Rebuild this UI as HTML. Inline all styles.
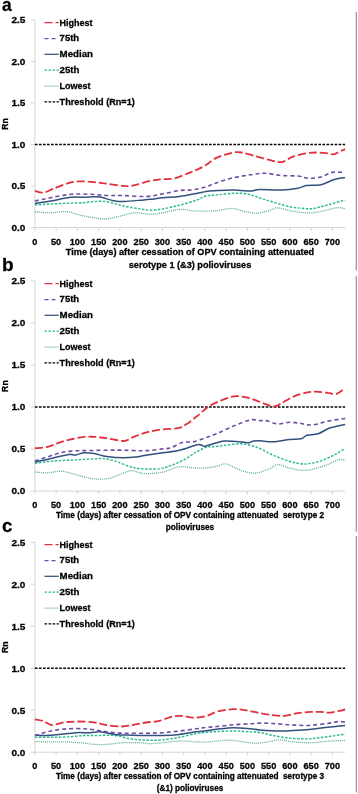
<!DOCTYPE html>
<html><head><meta charset="utf-8"><style>
html,body{margin:0;padding:0;background:#fff;}
body{width:358px;height:794px;overflow:hidden;}
svg{display:block;filter:blur(0.35px);}
</style></head><body>
<svg width="358" height="794" viewBox="0 0 358 794">
<rect width="358" height="794" fill="#fff"/>
<text x="2.0" y="10.7" font-family="Liberation Sans, sans-serif" font-weight="bold" stroke="#000" stroke-width="0.28" font-size="19.00" textLength="9.7" lengthAdjust="spacingAndGlyphs" xml:space="preserve">a</text>
<path d="M34.9 19.8V227.6H345.1" stroke="#d4d4d4" stroke-width="1" fill="none"/>
<text x="25.3" y="230.8" font-family="Liberation Sans, sans-serif" font-weight="bold" stroke="#000" stroke-width="0.28" font-size="9.80" text-anchor="end" textLength="13.9" lengthAdjust="spacingAndGlyphs" xml:space="preserve">0.0</text>
<text x="25.3" y="189.3" font-family="Liberation Sans, sans-serif" font-weight="bold" stroke="#000" stroke-width="0.28" font-size="9.80" text-anchor="end" textLength="13.9" lengthAdjust="spacingAndGlyphs" xml:space="preserve">0.5</text>
<text x="25.3" y="147.7" font-family="Liberation Sans, sans-serif" font-weight="bold" stroke="#000" stroke-width="0.28" font-size="9.80" text-anchor="end" textLength="13.9" lengthAdjust="spacingAndGlyphs" xml:space="preserve">1.0</text>
<text x="25.3" y="106.2" font-family="Liberation Sans, sans-serif" font-weight="bold" stroke="#000" stroke-width="0.28" font-size="9.80" text-anchor="end" textLength="13.9" lengthAdjust="spacingAndGlyphs" xml:space="preserve">1.5</text>
<text x="25.3" y="64.6" font-family="Liberation Sans, sans-serif" font-weight="bold" stroke="#000" stroke-width="0.28" font-size="9.80" text-anchor="end" textLength="13.9" lengthAdjust="spacingAndGlyphs" xml:space="preserve">2.0</text>
<text x="25.3" y="23.1" font-family="Liberation Sans, sans-serif" font-weight="bold" stroke="#000" stroke-width="0.28" font-size="9.80" text-anchor="end" textLength="13.9" lengthAdjust="spacingAndGlyphs" xml:space="preserve">2.5</text>
<text x="34.9" y="244.5" font-family="Liberation Sans, sans-serif" font-weight="bold" stroke="#000" stroke-width="0.28" font-size="9.94" text-anchor="middle" textLength="5.1" lengthAdjust="spacingAndGlyphs" xml:space="preserve">0</text>
<text x="56.1" y="244.5" font-family="Liberation Sans, sans-serif" font-weight="bold" stroke="#000" stroke-width="0.28" font-size="9.94" text-anchor="middle" textLength="10.2" lengthAdjust="spacingAndGlyphs" xml:space="preserve">50</text>
<text x="77.4" y="244.5" font-family="Liberation Sans, sans-serif" font-weight="bold" stroke="#000" stroke-width="0.28" font-size="9.94" text-anchor="middle" textLength="15.3" lengthAdjust="spacingAndGlyphs" xml:space="preserve">100</text>
<text x="98.7" y="244.5" font-family="Liberation Sans, sans-serif" font-weight="bold" stroke="#000" stroke-width="0.28" font-size="9.94" text-anchor="middle" textLength="15.3" lengthAdjust="spacingAndGlyphs" xml:space="preserve">150</text>
<text x="119.9" y="244.5" font-family="Liberation Sans, sans-serif" font-weight="bold" stroke="#000" stroke-width="0.28" font-size="9.94" text-anchor="middle" textLength="15.3" lengthAdjust="spacingAndGlyphs" xml:space="preserve">200</text>
<text x="141.2" y="244.5" font-family="Liberation Sans, sans-serif" font-weight="bold" stroke="#000" stroke-width="0.28" font-size="9.94" text-anchor="middle" textLength="15.3" lengthAdjust="spacingAndGlyphs" xml:space="preserve">250</text>
<text x="162.4" y="244.5" font-family="Liberation Sans, sans-serif" font-weight="bold" stroke="#000" stroke-width="0.28" font-size="9.94" text-anchor="middle" textLength="15.3" lengthAdjust="spacingAndGlyphs" xml:space="preserve">300</text>
<text x="183.7" y="244.5" font-family="Liberation Sans, sans-serif" font-weight="bold" stroke="#000" stroke-width="0.28" font-size="9.94" text-anchor="middle" textLength="15.3" lengthAdjust="spacingAndGlyphs" xml:space="preserve">350</text>
<text x="204.9" y="244.5" font-family="Liberation Sans, sans-serif" font-weight="bold" stroke="#000" stroke-width="0.28" font-size="9.94" text-anchor="middle" textLength="15.3" lengthAdjust="spacingAndGlyphs" xml:space="preserve">400</text>
<text x="226.2" y="244.5" font-family="Liberation Sans, sans-serif" font-weight="bold" stroke="#000" stroke-width="0.28" font-size="9.94" text-anchor="middle" textLength="15.3" lengthAdjust="spacingAndGlyphs" xml:space="preserve">450</text>
<text x="247.4" y="244.5" font-family="Liberation Sans, sans-serif" font-weight="bold" stroke="#000" stroke-width="0.28" font-size="9.94" text-anchor="middle" textLength="15.3" lengthAdjust="spacingAndGlyphs" xml:space="preserve">500</text>
<text x="268.6" y="244.5" font-family="Liberation Sans, sans-serif" font-weight="bold" stroke="#000" stroke-width="0.28" font-size="9.94" text-anchor="middle" textLength="15.3" lengthAdjust="spacingAndGlyphs" xml:space="preserve">550</text>
<text x="289.9" y="244.5" font-family="Liberation Sans, sans-serif" font-weight="bold" stroke="#000" stroke-width="0.28" font-size="9.94" text-anchor="middle" textLength="15.3" lengthAdjust="spacingAndGlyphs" xml:space="preserve">600</text>
<text x="311.1" y="244.5" font-family="Liberation Sans, sans-serif" font-weight="bold" stroke="#000" stroke-width="0.28" font-size="9.94" text-anchor="middle" textLength="15.3" lengthAdjust="spacingAndGlyphs" xml:space="preserve">650</text>
<text x="332.4" y="244.5" font-family="Liberation Sans, sans-serif" font-weight="bold" stroke="#000" stroke-width="0.28" font-size="9.94" text-anchor="middle" textLength="15.3" lengthAdjust="spacingAndGlyphs" xml:space="preserve">700</text>
<path d="M30.7 227.6H34.9M30.7 186.0H34.9M30.7 144.5H34.9M30.7 102.9H34.9M30.7 61.4H34.9M30.7 19.8H34.9M34.9 227.6V230.8M56.1 227.6V230.8M77.4 227.6V230.8M98.7 227.6V230.8M119.9 227.6V230.8M141.2 227.6V230.8M162.4 227.6V230.8M183.7 227.6V230.8M204.9 227.6V230.8M226.2 227.6V230.8M247.4 227.6V230.8M268.6 227.6V230.8M289.9 227.6V230.8M311.1 227.6V230.8M332.4 227.6V230.8" stroke="#d4d4d4" stroke-width="1" fill="none"/>
<g transform="translate(8.4 123.9) rotate(-90)"><text x="0.0" y="0.0" font-family="Liberation Sans, sans-serif" font-weight="bold" stroke="#000" stroke-width="0.28" font-size="9.74" text-anchor="middle" textLength="11.6" lengthAdjust="spacingAndGlyphs" xml:space="preserve">Rn</text></g>
<text x="190.0" y="254.9" font-family="Liberation Sans, sans-serif" font-weight="bold" stroke="#000" stroke-width="0.28" font-size="9.70" text-anchor="middle" textLength="248.4" lengthAdjust="spacingAndGlyphs" xml:space="preserve">Time (days) after cessation of OPV containing attenuated</text>
<text x="190.0" y="268.1" font-family="Liberation Sans, sans-serif" font-weight="bold" stroke="#000" stroke-width="0.28" font-size="9.70" text-anchor="middle" textLength="122.5" lengthAdjust="spacingAndGlyphs" xml:space="preserve">serotype 1 (&amp;3) polioviruses</text>
<path d="M34.9 144.5H345.1" stroke="#000000" stroke-width="1.35" fill="none" stroke-dasharray="2.6 1.45"/>
<path d="M34.9 211.9C37.5 212.0 45.4 212.8 50.8 212.7C56.2 212.6 62.8 211.2 67.5 211.6C72.2 212.0 74.8 213.9 79.2 214.9C83.6 215.9 89.4 217.1 94.0 217.8C98.6 218.5 101.9 219.3 106.8 218.9C111.7 218.5 118.8 216.2 123.5 215.2C128.2 214.2 130.8 212.9 135.2 212.7C139.6 212.5 145.4 214.2 150.0 214.2C154.6 214.2 157.9 213.6 162.8 212.8C167.7 212.0 173.9 209.7 179.5 209.4C185.1 209.1 190.1 210.9 196.3 211.1C202.5 211.3 210.9 211.2 216.8 210.7C222.7 210.2 227.3 208.2 231.8 208.3C236.3 208.4 239.6 210.3 243.6 211.2C247.6 212.0 251.7 213.5 256.0 213.4C260.3 213.3 265.8 211.3 269.4 210.4C273.0 209.5 274.4 207.8 277.8 207.8C281.2 207.9 284.8 209.8 289.5 210.7C294.2 211.5 301.9 212.6 306.3 212.9C310.7 213.2 312.4 212.9 316.0 212.4C319.6 211.9 324.3 210.6 327.9 209.8C331.5 209.0 334.8 207.9 337.7 207.7C340.6 207.5 343.9 208.5 345.1 208.7" stroke="#5aae90" stroke-width="1.3" fill="none" stroke-dasharray="1 1" stroke-linejoin="round"/>
<path d="M34.9 204.9C37.5 204.8 45.4 204.3 50.8 204.0C56.2 203.7 61.9 203.4 67.5 203.2C73.1 203.0 79.9 203.0 84.3 202.7C88.7 202.4 90.2 201.7 94.0 201.5C97.8 201.3 101.9 201.1 106.8 201.8C111.7 202.6 117.9 204.8 123.5 206.0C129.1 207.2 135.9 208.2 140.3 208.9C144.7 209.6 146.2 210.2 150.0 210.2C153.8 210.2 157.9 209.7 162.8 208.9C167.7 208.1 173.9 206.6 179.5 205.2C185.1 203.8 191.9 201.7 196.3 200.2C200.7 198.7 202.6 196.9 206.0 196.0C209.4 195.1 212.2 195.3 216.8 194.9C221.4 194.5 228.5 193.5 233.5 193.3C238.5 193.1 242.5 193.1 246.9 193.9C251.3 194.7 255.7 196.7 260.0 198.0C264.3 199.3 267.9 200.6 272.8 202.0C277.7 203.4 283.9 205.6 289.5 206.7C295.1 207.8 302.2 208.3 306.3 208.6C310.4 208.9 310.4 209.0 314.0 208.4C317.6 207.8 322.7 206.3 327.9 204.9C333.1 203.5 342.2 200.9 345.1 200.1" stroke="#2abb92" stroke-width="1.45" fill="none" stroke-dasharray="2.5 1.5" stroke-linejoin="round"/>
<path d="M34.9 203.5C37.5 203.1 44.8 202.0 50.8 201.0C56.8 200.0 65.3 197.9 70.9 197.3C76.5 196.7 80.5 197.4 84.3 197.3C88.1 197.2 91.4 196.8 94.0 196.8C96.6 196.8 96.5 196.4 100.0 197.1C103.5 197.8 111.2 200.3 115.1 201.0C119.0 201.7 119.3 201.6 123.5 201.5C127.7 201.4 135.9 200.6 140.3 200.2C144.7 199.8 146.2 199.7 150.0 199.3C153.8 198.9 157.9 198.3 162.8 197.8C167.7 197.3 173.9 197.2 179.5 196.5C185.1 195.8 191.9 194.3 196.3 193.5C200.7 192.7 202.6 192.0 206.0 191.5C209.4 191.0 212.2 190.9 216.8 190.6C221.4 190.3 227.9 189.8 233.5 189.9C239.1 190.0 247.0 191.0 250.3 191.1C253.7 191.2 252.0 190.9 253.6 190.6C255.2 190.3 255.4 189.5 260.0 189.4C264.6 189.3 274.8 190.1 281.1 189.9C287.4 189.7 293.7 188.9 297.9 188.2C302.1 187.5 302.4 186.2 306.3 185.6C310.2 185.0 316.5 185.7 321.0 184.7C325.5 183.7 329.5 181.0 333.5 179.8C337.5 178.6 343.2 177.8 345.1 177.4" stroke="#33507f" stroke-width="1.5" fill="none" stroke-linejoin="round"/>
<path d="M34.9 201.0C37.5 200.4 44.8 198.8 50.8 197.7C56.8 196.6 64.4 194.9 70.9 194.3C77.4 193.7 84.0 194.1 90.0 194.3C96.0 194.5 101.2 195.3 106.8 195.5C112.4 195.7 117.0 195.4 123.5 195.6C130.0 195.8 139.4 196.8 146.0 196.5C152.6 196.2 157.2 194.8 162.8 193.8C168.4 192.8 174.5 191.2 179.5 190.5C184.5 189.8 188.5 190.4 192.9 189.8C197.3 189.2 202.0 188.0 206.0 186.8C210.0 185.6 212.2 184.2 216.8 182.7C221.4 181.2 227.9 179.0 233.5 177.7C239.1 176.4 245.2 175.6 250.3 174.8C255.5 174.1 259.3 173.1 264.4 173.2C269.5 173.3 275.5 175.0 281.1 175.5C286.7 176.0 293.4 175.6 297.9 176.0C302.4 176.4 304.1 178.0 308.0 178.2C311.9 178.4 317.0 178.0 321.0 177.0C325.0 176.0 328.6 173.2 332.1 172.4C335.6 171.6 339.7 172.4 341.9 172.4C344.1 172.4 344.6 172.4 345.1 172.4" stroke="#6e4ea3" stroke-width="1.6" fill="none" stroke-dasharray="4 3" stroke-linejoin="round"/>
<path d="M34.9 190.9C36.3 191.2 40.0 193.0 43.2 192.6C46.4 192.2 50.1 189.9 54.1 188.4C58.1 186.9 63.3 184.6 67.5 183.4C71.7 182.2 74.8 181.6 79.2 181.4C83.6 181.2 89.4 181.7 94.0 182.1C98.6 182.5 101.9 183.1 106.8 183.7C111.7 184.3 119.0 185.6 123.5 185.9C128.0 186.2 129.2 186.2 133.6 185.4C138.0 184.6 145.1 181.9 150.0 180.9C154.9 179.9 158.7 179.6 162.8 179.2C166.9 178.8 170.3 179.4 174.5 178.4C178.7 177.4 184.3 174.8 187.9 173.4C191.5 172.0 193.3 171.4 196.3 170.0C199.3 168.6 202.6 167.1 206.0 165.0C209.4 162.9 212.2 159.7 216.8 157.6C221.4 155.5 229.3 153.3 233.5 152.5C237.7 151.7 238.2 151.8 241.9 152.5C245.7 153.2 250.8 155.0 256.0 156.4C261.1 157.8 268.3 160.0 272.8 160.9C277.3 161.8 279.5 162.5 282.8 161.8C286.1 161.1 289.0 158.1 292.9 156.7C296.8 155.3 302.4 154.1 306.3 153.4C310.2 152.7 312.4 152.5 316.0 152.5C319.6 152.5 325.0 153.0 327.9 153.3C330.8 153.6 331.6 154.6 333.5 154.4C335.4 154.2 337.2 152.8 339.1 151.9C341.0 151.0 344.1 149.6 345.1 149.1" stroke="#e1303c" stroke-width="1.8" fill="none" stroke-dasharray="8 3" stroke-linejoin="round"/>
<path d="M44.5 22.6H58.8" stroke="#e1303c" stroke-width="1.25" fill="none" stroke-dasharray="8 3"/>
<text x="59.6" y="25.5" font-family="Liberation Sans, sans-serif" font-weight="bold" stroke="#000" stroke-width="0.28" font-size="9.90" textLength="33.0" lengthAdjust="spacingAndGlyphs" xml:space="preserve">Highest</text>
<path d="M44.5 38.5H56.0" stroke="#6e4ea3" stroke-width="1.25" fill="none" stroke-dasharray="4 3"/>
<text x="59.6" y="41.4" font-family="Liberation Sans, sans-serif" font-weight="bold" stroke="#000" stroke-width="0.28" font-size="9.90" textLength="19.6" lengthAdjust="spacingAndGlyphs" xml:space="preserve">75th</text>
<path d="M44.5 54.3H58.8" stroke="#33507f" stroke-width="1.25" fill="none"/>
<text x="59.6" y="57.2" font-family="Liberation Sans, sans-serif" font-weight="bold" stroke="#000" stroke-width="0.28" font-size="9.90" textLength="33.4" lengthAdjust="spacingAndGlyphs" xml:space="preserve">Median</text>
<path d="M44.5 70.2H58.8" stroke="#2abb92" stroke-width="1.25" fill="none" stroke-dasharray="2.5 1.5"/>
<text x="59.6" y="73.1" font-family="Liberation Sans, sans-serif" font-weight="bold" stroke="#000" stroke-width="0.28" font-size="9.90" textLength="19.9" lengthAdjust="spacingAndGlyphs" xml:space="preserve">25th</text>
<path d="M44.5 86.0H58.8" stroke="#5aae90" stroke-width="1.25" fill="none" stroke-dasharray="1 1"/>
<text x="59.6" y="88.9" font-family="Liberation Sans, sans-serif" font-weight="bold" stroke="#000" stroke-width="0.28" font-size="9.90" textLength="31.0" lengthAdjust="spacingAndGlyphs" xml:space="preserve">Lowest</text>
<path d="M44.5 101.8H58.8" stroke="#000000" stroke-width="1.25" fill="none" stroke-dasharray="2.6 1.45"/>
<text x="59.6" y="104.8" font-family="Liberation Sans, sans-serif" font-weight="bold" stroke="#000" stroke-width="0.28" font-size="9.90" textLength="75.2" lengthAdjust="spacingAndGlyphs" xml:space="preserve">Threshold (Rn=1)</text>
<path d="M356.3 12.1V270.4" stroke="#9a9a9a" stroke-width="1.3"/>
<text x="2.0" y="270.6" font-family="Liberation Sans, sans-serif" font-weight="bold" stroke="#000" stroke-width="0.28" font-size="19.00" textLength="11.6" lengthAdjust="spacingAndGlyphs" xml:space="preserve">b</text>
<path d="M34.9 280.9V491.1H345.1" stroke="#d4d4d4" stroke-width="1" fill="none"/>
<text x="25.3" y="494.4" font-family="Liberation Sans, sans-serif" font-weight="bold" stroke="#000" stroke-width="0.28" font-size="9.80" text-anchor="end" textLength="13.9" lengthAdjust="spacingAndGlyphs" xml:space="preserve">0.0</text>
<text x="25.3" y="452.3" font-family="Liberation Sans, sans-serif" font-weight="bold" stroke="#000" stroke-width="0.28" font-size="9.80" text-anchor="end" textLength="13.9" lengthAdjust="spacingAndGlyphs" xml:space="preserve">0.5</text>
<text x="25.3" y="410.3" font-family="Liberation Sans, sans-serif" font-weight="bold" stroke="#000" stroke-width="0.28" font-size="9.80" text-anchor="end" textLength="13.9" lengthAdjust="spacingAndGlyphs" xml:space="preserve">1.0</text>
<text x="25.3" y="368.2" font-family="Liberation Sans, sans-serif" font-weight="bold" stroke="#000" stroke-width="0.28" font-size="9.80" text-anchor="end" textLength="13.9" lengthAdjust="spacingAndGlyphs" xml:space="preserve">1.5</text>
<text x="25.3" y="326.2" font-family="Liberation Sans, sans-serif" font-weight="bold" stroke="#000" stroke-width="0.28" font-size="9.80" text-anchor="end" textLength="13.9" lengthAdjust="spacingAndGlyphs" xml:space="preserve">2.0</text>
<text x="25.3" y="284.1" font-family="Liberation Sans, sans-serif" font-weight="bold" stroke="#000" stroke-width="0.28" font-size="9.80" text-anchor="end" textLength="13.9" lengthAdjust="spacingAndGlyphs" xml:space="preserve">2.5</text>
<text x="34.9" y="507.5" font-family="Liberation Sans, sans-serif" font-weight="bold" stroke="#000" stroke-width="0.28" font-size="9.94" text-anchor="middle" textLength="5.1" lengthAdjust="spacingAndGlyphs" xml:space="preserve">0</text>
<text x="56.1" y="507.5" font-family="Liberation Sans, sans-serif" font-weight="bold" stroke="#000" stroke-width="0.28" font-size="9.94" text-anchor="middle" textLength="10.2" lengthAdjust="spacingAndGlyphs" xml:space="preserve">50</text>
<text x="77.4" y="507.5" font-family="Liberation Sans, sans-serif" font-weight="bold" stroke="#000" stroke-width="0.28" font-size="9.94" text-anchor="middle" textLength="15.3" lengthAdjust="spacingAndGlyphs" xml:space="preserve">100</text>
<text x="98.7" y="507.5" font-family="Liberation Sans, sans-serif" font-weight="bold" stroke="#000" stroke-width="0.28" font-size="9.94" text-anchor="middle" textLength="15.3" lengthAdjust="spacingAndGlyphs" xml:space="preserve">150</text>
<text x="119.9" y="507.5" font-family="Liberation Sans, sans-serif" font-weight="bold" stroke="#000" stroke-width="0.28" font-size="9.94" text-anchor="middle" textLength="15.3" lengthAdjust="spacingAndGlyphs" xml:space="preserve">200</text>
<text x="141.2" y="507.5" font-family="Liberation Sans, sans-serif" font-weight="bold" stroke="#000" stroke-width="0.28" font-size="9.94" text-anchor="middle" textLength="15.3" lengthAdjust="spacingAndGlyphs" xml:space="preserve">250</text>
<text x="162.4" y="507.5" font-family="Liberation Sans, sans-serif" font-weight="bold" stroke="#000" stroke-width="0.28" font-size="9.94" text-anchor="middle" textLength="15.3" lengthAdjust="spacingAndGlyphs" xml:space="preserve">300</text>
<text x="183.7" y="507.5" font-family="Liberation Sans, sans-serif" font-weight="bold" stroke="#000" stroke-width="0.28" font-size="9.94" text-anchor="middle" textLength="15.3" lengthAdjust="spacingAndGlyphs" xml:space="preserve">350</text>
<text x="204.9" y="507.5" font-family="Liberation Sans, sans-serif" font-weight="bold" stroke="#000" stroke-width="0.28" font-size="9.94" text-anchor="middle" textLength="15.3" lengthAdjust="spacingAndGlyphs" xml:space="preserve">400</text>
<text x="226.2" y="507.5" font-family="Liberation Sans, sans-serif" font-weight="bold" stroke="#000" stroke-width="0.28" font-size="9.94" text-anchor="middle" textLength="15.3" lengthAdjust="spacingAndGlyphs" xml:space="preserve">450</text>
<text x="247.4" y="507.5" font-family="Liberation Sans, sans-serif" font-weight="bold" stroke="#000" stroke-width="0.28" font-size="9.94" text-anchor="middle" textLength="15.3" lengthAdjust="spacingAndGlyphs" xml:space="preserve">500</text>
<text x="268.6" y="507.5" font-family="Liberation Sans, sans-serif" font-weight="bold" stroke="#000" stroke-width="0.28" font-size="9.94" text-anchor="middle" textLength="15.3" lengthAdjust="spacingAndGlyphs" xml:space="preserve">550</text>
<text x="289.9" y="507.5" font-family="Liberation Sans, sans-serif" font-weight="bold" stroke="#000" stroke-width="0.28" font-size="9.94" text-anchor="middle" textLength="15.3" lengthAdjust="spacingAndGlyphs" xml:space="preserve">600</text>
<text x="311.1" y="507.5" font-family="Liberation Sans, sans-serif" font-weight="bold" stroke="#000" stroke-width="0.28" font-size="9.94" text-anchor="middle" textLength="15.3" lengthAdjust="spacingAndGlyphs" xml:space="preserve">650</text>
<text x="332.4" y="507.5" font-family="Liberation Sans, sans-serif" font-weight="bold" stroke="#000" stroke-width="0.28" font-size="9.94" text-anchor="middle" textLength="15.3" lengthAdjust="spacingAndGlyphs" xml:space="preserve">700</text>
<path d="M30.7 491.1H34.9M30.7 449.1H34.9M30.7 407.0H34.9M30.7 365.0H34.9M30.7 322.9H34.9M30.7 280.9H34.9M34.9 491.1V494.3M56.1 491.1V494.3M77.4 491.1V494.3M98.7 491.1V494.3M119.9 491.1V494.3M141.2 491.1V494.3M162.4 491.1V494.3M183.7 491.1V494.3M204.9 491.1V494.3M226.2 491.1V494.3M247.4 491.1V494.3M268.6 491.1V494.3M289.9 491.1V494.3M311.1 491.1V494.3M332.4 491.1V494.3" stroke="#d4d4d4" stroke-width="1" fill="none"/>
<g transform="translate(8.4 386.1) rotate(-90)"><text x="0.0" y="0.0" font-family="Liberation Sans, sans-serif" font-weight="bold" stroke="#000" stroke-width="0.28" font-size="9.74" text-anchor="middle" textLength="11.6" lengthAdjust="spacingAndGlyphs" xml:space="preserve">Rn</text></g>
<text x="190.0" y="517.6" font-family="Liberation Sans, sans-serif" font-weight="bold" stroke="#000" stroke-width="0.28" font-size="8.53" text-anchor="middle" textLength="268.2" lengthAdjust="spacingAndGlyphs" xml:space="preserve">Time (days) after cessation of OPV containing attenuated  serotype 2</text>
<text x="190.0" y="529.6" font-family="Liberation Sans, sans-serif" font-weight="bold" stroke="#000" stroke-width="0.28" font-size="8.53" text-anchor="middle" textLength="48.3" lengthAdjust="spacingAndGlyphs" xml:space="preserve">polioviruses</text>
<path d="M34.9 407.0H345.1" stroke="#000000" stroke-width="1.35" fill="none" stroke-dasharray="2.6 1.45"/>
<path d="M34.9 472.0C37.0 472.1 43.1 472.9 47.4 472.8C51.7 472.7 56.9 471.1 60.8 471.2C64.7 471.3 67.0 472.3 70.9 473.3C74.8 474.3 80.5 476.1 84.3 477.0C88.1 477.9 90.2 478.6 94.0 478.9C97.8 479.2 102.4 479.4 106.8 478.7C111.2 478.0 116.3 475.8 120.2 474.5C124.1 473.2 126.8 471.0 130.2 470.7C133.5 470.4 137.7 472.3 140.3 472.8C142.9 473.3 142.2 473.8 146.0 473.7C149.8 473.6 157.2 473.3 162.8 472.1C168.4 470.9 174.5 467.4 179.5 466.7C184.5 466.0 188.5 467.7 192.9 467.9C197.3 468.1 202.0 468.2 206.0 467.9C210.0 467.6 213.6 467.0 216.8 466.3C220.0 465.6 222.3 463.7 225.1 463.8C227.9 463.9 230.4 465.9 233.5 467.1C236.6 468.4 239.8 470.3 243.6 471.3C247.3 472.3 251.7 473.4 256.0 473.0C260.3 472.6 265.8 470.2 269.4 468.8C273.0 467.4 274.4 464.7 277.8 464.6C281.2 464.5 285.3 467.0 289.5 468.0C293.7 469.0 298.8 470.2 302.9 470.4C307.0 470.5 309.8 469.9 314.0 468.9C318.2 467.9 323.7 466.0 327.9 464.4C332.1 462.8 336.2 460.1 339.1 459.5C342.0 458.9 344.1 460.3 345.1 460.5" stroke="#5aae90" stroke-width="1.3" fill="none" stroke-dasharray="1 1" stroke-linejoin="round"/>
<path d="M34.9 463.3C37.0 463.0 43.4 462.1 47.4 461.6C51.4 461.2 54.4 460.9 59.1 460.6C63.9 460.3 70.1 460.2 75.9 459.9C81.7 459.6 89.4 459.1 94.0 458.9C98.6 458.7 99.9 458.2 103.4 458.6C106.9 459.0 110.9 459.9 115.1 461.1C119.3 462.4 124.3 464.8 128.5 466.1C132.7 467.4 135.2 468.3 140.3 468.7C145.5 469.1 154.3 469.2 159.4 468.7C164.5 468.1 166.9 466.9 171.1 465.4C175.3 463.9 180.3 461.7 184.5 459.5C188.7 457.3 192.7 454.0 196.3 452.0C199.9 450.0 203.2 448.2 206.0 447.3C208.8 446.4 210.2 447.0 213.4 446.7C216.6 446.4 220.6 445.8 225.1 445.3C229.6 444.8 236.0 443.7 240.2 443.7C244.4 443.7 247.0 444.5 250.3 445.3C253.6 446.1 256.2 446.9 260.0 448.5C263.8 450.1 267.9 453.0 272.8 455.1C277.7 457.2 284.8 459.9 289.5 461.3C294.2 462.8 298.1 463.4 301.2 463.8C304.3 464.2 305.1 464.2 308.4 463.7C311.7 463.2 316.6 462.4 321.0 460.9C325.4 459.4 330.9 456.7 334.9 454.6C338.9 452.5 343.4 449.4 345.1 448.3" stroke="#2abb92" stroke-width="1.45" fill="none" stroke-dasharray="2.5 1.5" stroke-linejoin="round"/>
<path d="M34.9 462.0C37.0 461.6 43.4 460.3 47.4 459.4C51.4 458.5 55.5 457.4 59.1 456.6C62.7 455.8 66.4 454.7 69.2 454.4C72.0 454.1 73.4 455.2 75.9 454.9C78.4 454.6 81.3 452.9 84.3 452.7C87.3 452.5 90.2 452.9 94.0 453.5C97.8 454.1 101.9 455.9 106.8 456.6C111.7 457.3 118.5 457.8 123.5 457.8C128.5 457.9 133.2 457.3 136.9 456.9C140.7 456.5 141.7 456.0 146.0 455.3C150.3 454.6 157.2 453.6 162.8 452.8C168.4 452.0 173.9 451.6 179.5 450.3C185.1 449.0 192.7 445.8 196.3 444.9C199.9 444.0 199.9 444.7 201.3 444.9C202.8 445.1 202.4 446.5 205.0 446.2C207.6 445.9 213.5 443.6 216.8 442.8C220.2 442.0 220.9 441.2 225.1 441.1C229.3 441.0 238.0 441.7 241.9 442.0C245.8 442.3 246.7 442.9 248.6 442.8C250.5 442.7 251.7 441.4 253.6 441.1C255.5 440.8 256.8 440.7 260.0 440.8C263.2 440.9 267.9 441.9 272.8 441.7C277.7 441.5 284.8 440.0 289.5 439.5C294.2 439.0 298.3 439.4 301.2 438.7C304.1 438.0 304.2 436.1 307.0 435.3C309.8 434.5 314.7 434.8 318.2 433.7C321.7 432.6 325.1 430.0 327.9 428.8C330.7 427.6 332.0 427.4 334.9 426.7C337.8 426.0 343.4 425.0 345.1 424.6" stroke="#33507f" stroke-width="1.5" fill="none" stroke-linejoin="round"/>
<path d="M34.9 461.1C37.0 460.4 43.4 458.2 47.4 456.9C51.4 455.6 55.2 454.2 59.1 453.2C63.0 452.2 66.7 451.5 70.9 451.1C75.1 450.7 78.3 450.8 84.3 450.6C90.3 450.5 100.3 450.3 106.8 450.2C113.3 450.1 117.9 450.1 123.5 450.2C129.1 450.3 135.9 450.7 140.3 450.7C144.7 450.7 146.2 450.7 150.0 450.4C153.8 450.1 159.3 449.3 162.8 448.9C166.3 448.5 167.8 448.9 171.1 447.8C174.4 446.7 179.3 443.2 182.9 442.2C186.5 441.2 189.1 442.6 192.9 441.9C196.8 441.1 202.0 439.1 206.0 437.7C210.0 436.3 212.2 435.5 216.8 433.6C221.4 431.7 227.9 428.4 233.5 426.1C239.1 423.8 245.9 420.8 250.3 419.9C254.7 419.0 257.4 420.5 260.0 420.6C262.6 420.7 263.1 420.1 266.1 420.6C269.1 421.2 273.9 423.6 277.8 423.9C281.7 424.2 285.9 422.3 289.5 422.2C293.1 422.1 296.5 422.8 299.6 423.2C302.7 423.6 305.1 424.7 308.0 424.9C310.9 425.1 313.5 424.8 316.8 424.2C320.1 423.6 323.5 422.0 327.9 421.1C332.3 420.2 340.4 419.1 343.3 418.7C346.2 418.3 344.8 418.6 345.1 418.6" stroke="#6e4ea3" stroke-width="1.6" fill="none" stroke-dasharray="4 3" stroke-linejoin="round"/>
<path d="M34.9 448.2C37.0 448.0 43.4 447.8 47.4 446.9C51.4 446.0 55.2 444.0 59.1 442.7C63.0 441.4 66.7 440.3 70.9 439.3C75.1 438.3 80.5 437.2 84.3 436.8C88.1 436.4 90.2 436.6 94.0 436.8C97.8 437.0 101.9 437.5 106.8 438.2C111.7 438.9 119.3 441.1 123.5 441.0C127.7 440.9 129.1 438.8 131.9 437.7C134.7 436.6 137.3 435.3 140.3 434.3C143.3 433.3 146.2 432.3 150.0 431.5C153.8 430.7 158.2 429.9 162.8 429.3C167.4 428.8 173.9 429.0 177.8 428.2C181.7 427.4 183.1 426.2 186.2 424.3C189.3 422.4 193.0 419.4 196.3 416.8C199.6 414.2 203.7 410.4 206.0 408.5C208.3 406.6 207.8 406.9 210.1 405.6C212.4 404.3 216.2 402.4 220.1 400.9C224.0 399.4 229.3 397.0 233.5 396.4C237.7 395.8 241.4 396.4 245.2 397.1C248.9 397.8 252.5 399.2 256.0 400.4C259.5 401.6 263.0 403.3 266.1 404.3C269.2 405.3 271.9 406.6 274.4 406.5C276.9 406.4 278.0 405.1 281.1 403.5C284.2 401.9 288.7 398.6 292.9 396.8C297.1 395.0 302.4 393.5 306.3 392.6C310.2 391.7 312.4 391.6 316.0 391.6C319.6 391.7 324.8 392.4 327.9 392.9C331.0 393.3 333.0 394.4 334.9 394.3C336.8 394.2 337.4 393.5 339.1 392.5C340.8 391.5 344.1 389.0 345.1 388.3" stroke="#e1303c" stroke-width="1.8" fill="none" stroke-dasharray="8 3" stroke-linejoin="round"/>
<path d="M44.5 283.6H58.8" stroke="#e1303c" stroke-width="1.25" fill="none" stroke-dasharray="8 3"/>
<text x="59.6" y="286.5" font-family="Liberation Sans, sans-serif" font-weight="bold" stroke="#000" stroke-width="0.28" font-size="9.90" textLength="33.0" lengthAdjust="spacingAndGlyphs" xml:space="preserve">Highest</text>
<path d="M44.5 299.5H56.0" stroke="#6e4ea3" stroke-width="1.25" fill="none" stroke-dasharray="4 3"/>
<text x="59.6" y="302.4" font-family="Liberation Sans, sans-serif" font-weight="bold" stroke="#000" stroke-width="0.28" font-size="9.90" textLength="19.6" lengthAdjust="spacingAndGlyphs" xml:space="preserve">75th</text>
<path d="M44.5 315.3H58.8" stroke="#33507f" stroke-width="1.25" fill="none"/>
<text x="59.6" y="318.2" font-family="Liberation Sans, sans-serif" font-weight="bold" stroke="#000" stroke-width="0.28" font-size="9.90" textLength="33.4" lengthAdjust="spacingAndGlyphs" xml:space="preserve">Median</text>
<path d="M44.5 331.2H58.8" stroke="#2abb92" stroke-width="1.25" fill="none" stroke-dasharray="2.5 1.5"/>
<text x="59.6" y="334.1" font-family="Liberation Sans, sans-serif" font-weight="bold" stroke="#000" stroke-width="0.28" font-size="9.90" textLength="19.9" lengthAdjust="spacingAndGlyphs" xml:space="preserve">25th</text>
<path d="M44.5 347.0H58.8" stroke="#5aae90" stroke-width="1.25" fill="none" stroke-dasharray="1 1"/>
<text x="59.6" y="349.9" font-family="Liberation Sans, sans-serif" font-weight="bold" stroke="#000" stroke-width="0.28" font-size="9.90" textLength="31.0" lengthAdjust="spacingAndGlyphs" xml:space="preserve">Lowest</text>
<path d="M44.5 362.9H58.8" stroke="#000000" stroke-width="1.25" fill="none" stroke-dasharray="2.6 1.45"/>
<text x="59.6" y="365.8" font-family="Liberation Sans, sans-serif" font-weight="bold" stroke="#000" stroke-width="0.28" font-size="9.90" textLength="75.2" lengthAdjust="spacingAndGlyphs" xml:space="preserve">Threshold (Rn=1)</text>
<path d="M356.3 275.7V531.7" stroke="#9a9a9a" stroke-width="1.3"/>
<text x="2.0" y="531.6" font-family="Liberation Sans, sans-serif" font-weight="bold" stroke="#000" stroke-width="0.28" font-size="19.00" textLength="10.4" lengthAdjust="spacingAndGlyphs" xml:space="preserve">c</text>
<path d="M34.9 542.2V752.2H345.1" stroke="#d4d4d4" stroke-width="1" fill="none"/>
<text x="25.3" y="755.5" font-family="Liberation Sans, sans-serif" font-weight="bold" stroke="#000" stroke-width="0.28" font-size="9.80" text-anchor="end" textLength="13.9" lengthAdjust="spacingAndGlyphs" xml:space="preserve">0.0</text>
<text x="25.3" y="713.5" font-family="Liberation Sans, sans-serif" font-weight="bold" stroke="#000" stroke-width="0.28" font-size="9.80" text-anchor="end" textLength="13.9" lengthAdjust="spacingAndGlyphs" xml:space="preserve">0.5</text>
<text x="25.3" y="671.5" font-family="Liberation Sans, sans-serif" font-weight="bold" stroke="#000" stroke-width="0.28" font-size="9.80" text-anchor="end" textLength="13.9" lengthAdjust="spacingAndGlyphs" xml:space="preserve">1.0</text>
<text x="25.3" y="629.5" font-family="Liberation Sans, sans-serif" font-weight="bold" stroke="#000" stroke-width="0.28" font-size="9.80" text-anchor="end" textLength="13.9" lengthAdjust="spacingAndGlyphs" xml:space="preserve">1.5</text>
<text x="25.3" y="587.5" font-family="Liberation Sans, sans-serif" font-weight="bold" stroke="#000" stroke-width="0.28" font-size="9.80" text-anchor="end" textLength="13.9" lengthAdjust="spacingAndGlyphs" xml:space="preserve">2.0</text>
<text x="25.3" y="545.5" font-family="Liberation Sans, sans-serif" font-weight="bold" stroke="#000" stroke-width="0.28" font-size="9.80" text-anchor="end" textLength="13.9" lengthAdjust="spacingAndGlyphs" xml:space="preserve">2.5</text>
<text x="34.9" y="768.9" font-family="Liberation Sans, sans-serif" font-weight="bold" stroke="#000" stroke-width="0.28" font-size="9.94" text-anchor="middle" textLength="5.1" lengthAdjust="spacingAndGlyphs" xml:space="preserve">0</text>
<text x="56.1" y="768.9" font-family="Liberation Sans, sans-serif" font-weight="bold" stroke="#000" stroke-width="0.28" font-size="9.94" text-anchor="middle" textLength="10.2" lengthAdjust="spacingAndGlyphs" xml:space="preserve">50</text>
<text x="77.4" y="768.9" font-family="Liberation Sans, sans-serif" font-weight="bold" stroke="#000" stroke-width="0.28" font-size="9.94" text-anchor="middle" textLength="15.3" lengthAdjust="spacingAndGlyphs" xml:space="preserve">100</text>
<text x="98.7" y="768.9" font-family="Liberation Sans, sans-serif" font-weight="bold" stroke="#000" stroke-width="0.28" font-size="9.94" text-anchor="middle" textLength="15.3" lengthAdjust="spacingAndGlyphs" xml:space="preserve">150</text>
<text x="119.9" y="768.9" font-family="Liberation Sans, sans-serif" font-weight="bold" stroke="#000" stroke-width="0.28" font-size="9.94" text-anchor="middle" textLength="15.3" lengthAdjust="spacingAndGlyphs" xml:space="preserve">200</text>
<text x="141.2" y="768.9" font-family="Liberation Sans, sans-serif" font-weight="bold" stroke="#000" stroke-width="0.28" font-size="9.94" text-anchor="middle" textLength="15.3" lengthAdjust="spacingAndGlyphs" xml:space="preserve">250</text>
<text x="162.4" y="768.9" font-family="Liberation Sans, sans-serif" font-weight="bold" stroke="#000" stroke-width="0.28" font-size="9.94" text-anchor="middle" textLength="15.3" lengthAdjust="spacingAndGlyphs" xml:space="preserve">300</text>
<text x="183.7" y="768.9" font-family="Liberation Sans, sans-serif" font-weight="bold" stroke="#000" stroke-width="0.28" font-size="9.94" text-anchor="middle" textLength="15.3" lengthAdjust="spacingAndGlyphs" xml:space="preserve">350</text>
<text x="204.9" y="768.9" font-family="Liberation Sans, sans-serif" font-weight="bold" stroke="#000" stroke-width="0.28" font-size="9.94" text-anchor="middle" textLength="15.3" lengthAdjust="spacingAndGlyphs" xml:space="preserve">400</text>
<text x="226.2" y="768.9" font-family="Liberation Sans, sans-serif" font-weight="bold" stroke="#000" stroke-width="0.28" font-size="9.94" text-anchor="middle" textLength="15.3" lengthAdjust="spacingAndGlyphs" xml:space="preserve">450</text>
<text x="247.4" y="768.9" font-family="Liberation Sans, sans-serif" font-weight="bold" stroke="#000" stroke-width="0.28" font-size="9.94" text-anchor="middle" textLength="15.3" lengthAdjust="spacingAndGlyphs" xml:space="preserve">500</text>
<text x="268.6" y="768.9" font-family="Liberation Sans, sans-serif" font-weight="bold" stroke="#000" stroke-width="0.28" font-size="9.94" text-anchor="middle" textLength="15.3" lengthAdjust="spacingAndGlyphs" xml:space="preserve">550</text>
<text x="289.9" y="768.9" font-family="Liberation Sans, sans-serif" font-weight="bold" stroke="#000" stroke-width="0.28" font-size="9.94" text-anchor="middle" textLength="15.3" lengthAdjust="spacingAndGlyphs" xml:space="preserve">600</text>
<text x="311.1" y="768.9" font-family="Liberation Sans, sans-serif" font-weight="bold" stroke="#000" stroke-width="0.28" font-size="9.94" text-anchor="middle" textLength="15.3" lengthAdjust="spacingAndGlyphs" xml:space="preserve">650</text>
<text x="332.4" y="768.9" font-family="Liberation Sans, sans-serif" font-weight="bold" stroke="#000" stroke-width="0.28" font-size="9.94" text-anchor="middle" textLength="15.3" lengthAdjust="spacingAndGlyphs" xml:space="preserve">700</text>
<path d="M30.7 752.2H34.9M30.7 710.2H34.9M30.7 668.2H34.9M30.7 626.2H34.9M30.7 584.2H34.9M30.7 542.2H34.9M34.9 752.2V755.4M56.1 752.2V755.4M77.4 752.2V755.4M98.7 752.2V755.4M119.9 752.2V755.4M141.2 752.2V755.4M162.4 752.2V755.4M183.7 752.2V755.4M204.9 752.2V755.4M226.2 752.2V755.4M247.4 752.2V755.4M268.6 752.2V755.4M289.9 752.2V755.4M311.1 752.2V755.4M332.4 752.2V755.4" stroke="#d4d4d4" stroke-width="1" fill="none"/>
<g transform="translate(8.4 647.2) rotate(-90)"><text x="0.0" y="0.0" font-family="Liberation Sans, sans-serif" font-weight="bold" stroke="#000" stroke-width="0.28" font-size="9.74" text-anchor="middle" textLength="11.6" lengthAdjust="spacingAndGlyphs" xml:space="preserve">Rn</text></g>
<text x="190.0" y="778.7" font-family="Liberation Sans, sans-serif" font-weight="bold" stroke="#000" stroke-width="0.28" font-size="8.53" text-anchor="middle" textLength="268.2" lengthAdjust="spacingAndGlyphs" xml:space="preserve">Time (days) after cessation of OPV containing attenuated  serotype 3</text>
<text x="190.0" y="790.6" font-family="Liberation Sans, sans-serif" font-weight="bold" stroke="#000" stroke-width="0.28" font-size="8.53" text-anchor="middle" textLength="66.5" lengthAdjust="spacingAndGlyphs" xml:space="preserve">(&amp;1) polioviruses</text>
<path d="M34.9 668.2H345.1" stroke="#000000" stroke-width="1.35" fill="none" stroke-dasharray="2.6 1.45"/>
<path d="M34.9 741.6C37.5 741.6 45.4 741.9 50.8 741.9C56.2 741.9 61.9 741.7 67.5 741.9C73.1 742.1 79.9 742.8 84.3 743.2C88.7 743.6 90.2 744.2 94.0 744.4C97.8 744.6 101.9 744.7 106.8 744.4C111.7 744.1 117.9 743.0 123.5 742.7C129.1 742.4 135.9 742.6 140.3 742.7C144.7 742.9 146.2 743.6 150.0 743.6C153.8 743.6 157.9 743.1 162.8 742.7C167.7 742.3 173.9 741.2 179.5 741.1C185.1 741.0 191.9 741.7 196.3 741.9C200.7 742.1 202.6 742.2 206.0 742.1C209.4 742.0 212.8 741.4 216.8 741.1C220.8 740.8 225.7 740.1 230.2 740.2C234.7 740.3 239.3 741.4 243.6 741.9C247.9 742.4 251.7 743.2 256.0 743.2C260.3 743.2 265.5 742.2 269.4 741.6C273.3 741.0 275.6 739.9 279.5 739.9C283.4 739.9 288.4 741.4 292.9 741.9C297.4 742.4 302.8 742.6 306.3 742.7C309.8 742.8 310.4 742.9 314.0 742.6C317.6 742.4 322.7 741.6 327.9 741.2C333.1 740.9 342.2 740.6 345.1 740.5" stroke="#5aae90" stroke-width="1.3" fill="none" stroke-dasharray="1 1" stroke-linejoin="round"/>
<path d="M34.9 737.2C37.5 737.2 45.4 737.2 50.8 737.2C56.2 737.2 61.9 737.2 67.5 736.9C73.1 736.6 79.9 735.7 84.3 735.5C88.7 735.3 88.9 735.5 94.0 735.5C99.1 735.5 109.3 735.0 115.1 735.5C120.8 736.0 124.3 737.8 128.5 738.5C132.7 739.2 136.7 739.6 140.3 739.9C143.9 740.2 146.2 740.2 150.0 740.2C153.8 740.2 157.9 740.4 162.8 739.9C167.7 739.4 173.9 738.3 179.5 737.2C185.1 736.1 191.9 734.3 196.3 733.5C200.7 732.7 202.6 732.7 206.0 732.4C209.4 732.1 212.2 731.7 216.8 731.5C221.4 731.3 227.9 731.0 233.5 731.0C239.1 731.0 245.9 731.5 250.3 731.8C254.7 732.0 256.2 731.9 260.0 732.5C263.8 733.1 267.9 734.5 272.8 735.5C277.7 736.5 283.9 737.6 289.5 738.2C295.1 738.8 302.2 738.9 306.3 738.9C310.4 738.9 310.4 738.8 314.0 738.4C317.6 738.0 322.7 737.3 327.9 736.6C333.1 735.9 342.2 734.6 345.1 734.2" stroke="#2abb92" stroke-width="1.45" fill="none" stroke-dasharray="2.5 1.5" stroke-linejoin="round"/>
<path d="M34.9 735.2C36.4 735.2 40.1 735.6 44.1 735.5C48.1 735.4 53.8 734.9 59.1 734.4C64.4 733.9 70.8 733.0 75.9 732.7C81.1 732.4 86.0 732.9 90.0 732.7C94.0 732.6 95.8 731.5 100.0 731.8C104.2 732.1 109.8 733.8 115.1 734.4C120.4 735.0 126.8 735.0 131.9 735.2C137.1 735.4 140.8 735.5 146.0 735.5C151.2 735.5 157.2 735.7 162.8 735.5C168.4 735.3 173.9 735.0 179.5 734.4C185.1 733.8 191.9 732.4 196.3 731.8C200.7 731.2 202.6 731.2 206.0 730.8C209.4 730.4 212.2 729.8 216.8 729.3C221.4 728.8 227.9 727.8 233.5 727.7C239.1 727.6 245.9 728.4 250.3 728.8C254.7 729.2 254.9 729.6 260.0 730.0C265.1 730.4 274.8 731.0 281.1 731.0C287.4 731.0 292.4 730.5 297.9 730.2C303.4 729.9 309.0 729.5 314.0 729.0C319.0 728.5 322.7 727.8 327.9 727.2C333.1 726.6 342.2 725.7 345.1 725.4" stroke="#33507f" stroke-width="1.5" fill="none" stroke-linejoin="round"/>
<path d="M34.9 735.5C37.5 734.8 45.4 732.1 50.8 731.0C56.2 729.9 61.9 729.2 67.5 728.8C73.1 728.4 79.9 728.6 84.3 728.8C88.7 729.0 90.2 729.3 94.0 729.8C97.8 730.3 101.9 731.2 106.8 731.8C111.7 732.4 117.0 733.0 123.5 733.2C130.0 733.4 139.4 733.3 146.0 733.2C152.6 733.1 157.2 733.1 162.8 732.7C168.4 732.3 173.9 731.6 179.5 731.0C185.1 730.4 191.9 729.4 196.3 728.8C200.7 728.2 202.6 727.8 206.0 727.4C209.4 727.0 212.2 726.9 216.8 726.5C221.4 726.1 227.9 725.2 233.5 724.8C239.1 724.3 245.9 724.1 250.3 723.8C254.7 723.5 256.2 723.1 260.0 723.1C263.8 723.1 267.9 723.2 272.8 723.5C277.7 723.8 283.9 724.5 289.5 724.8C295.1 725.1 302.2 725.5 306.3 725.5C310.4 725.5 310.4 725.2 314.0 724.9C317.6 724.6 323.9 724.0 327.9 723.5C331.8 723.0 334.8 721.8 337.7 721.6C340.6 721.4 343.9 722.0 345.1 722.1" stroke="#6e4ea3" stroke-width="1.6" fill="none" stroke-dasharray="4 3" stroke-linejoin="round"/>
<path d="M34.9 719.3C36.1 719.6 39.5 719.9 42.4 720.9C45.3 721.9 48.8 724.9 52.4 725.1C56.0 725.3 60.0 722.9 64.2 722.3C68.4 721.7 72.6 721.5 77.6 721.5C82.6 721.5 89.1 721.8 94.0 722.4C98.9 723.0 102.2 724.4 106.8 725.1C111.4 725.8 117.3 726.5 121.8 726.5C126.3 726.5 129.6 725.5 133.6 724.8C137.6 724.1 141.7 723.1 146.0 722.5C150.3 721.9 155.2 721.9 159.4 720.9C163.6 719.9 167.5 717.6 171.1 716.8C174.7 716.0 177.6 715.8 181.2 715.9C184.8 716.0 188.8 717.5 192.9 717.6C197.0 717.7 202.0 717.2 206.0 716.2C210.0 715.2 212.2 712.9 216.8 711.7C221.4 710.5 228.5 709.4 233.5 709.2C238.5 709.0 242.5 709.8 246.9 710.4C251.3 711.0 255.7 712.3 260.0 713.1C264.3 713.9 268.7 714.6 272.8 715.1C276.9 715.6 280.3 716.2 284.5 715.9C288.7 715.6 293.4 713.8 297.9 713.1C302.3 712.4 307.3 712.1 311.2 711.9C315.1 711.7 317.8 711.8 321.0 711.9C324.2 712.0 326.7 713.0 330.7 712.6C334.7 712.2 342.7 710.0 345.1 709.5" stroke="#e1303c" stroke-width="1.8" fill="none" stroke-dasharray="8 3" stroke-linejoin="round"/>
<path d="M44.5 544.6H58.8" stroke="#e1303c" stroke-width="1.25" fill="none" stroke-dasharray="8 3"/>
<text x="59.6" y="547.5" font-family="Liberation Sans, sans-serif" font-weight="bold" stroke="#000" stroke-width="0.28" font-size="9.90" textLength="33.0" lengthAdjust="spacingAndGlyphs" xml:space="preserve">Highest</text>
<path d="M44.5 560.5H56.0" stroke="#6e4ea3" stroke-width="1.25" fill="none" stroke-dasharray="4 3"/>
<text x="59.6" y="563.4" font-family="Liberation Sans, sans-serif" font-weight="bold" stroke="#000" stroke-width="0.28" font-size="9.90" textLength="19.6" lengthAdjust="spacingAndGlyphs" xml:space="preserve">75th</text>
<path d="M44.5 576.3H58.8" stroke="#33507f" stroke-width="1.25" fill="none"/>
<text x="59.6" y="579.2" font-family="Liberation Sans, sans-serif" font-weight="bold" stroke="#000" stroke-width="0.28" font-size="9.90" textLength="33.4" lengthAdjust="spacingAndGlyphs" xml:space="preserve">Median</text>
<path d="M44.5 592.1H58.8" stroke="#2abb92" stroke-width="1.25" fill="none" stroke-dasharray="2.5 1.5"/>
<text x="59.6" y="595.0" font-family="Liberation Sans, sans-serif" font-weight="bold" stroke="#000" stroke-width="0.28" font-size="9.90" textLength="19.9" lengthAdjust="spacingAndGlyphs" xml:space="preserve">25th</text>
<path d="M44.5 608.0H58.8" stroke="#5aae90" stroke-width="1.25" fill="none" stroke-dasharray="1 1"/>
<text x="59.6" y="610.9" font-family="Liberation Sans, sans-serif" font-weight="bold" stroke="#000" stroke-width="0.28" font-size="9.90" textLength="31.0" lengthAdjust="spacingAndGlyphs" xml:space="preserve">Lowest</text>
<path d="M44.5 623.9H58.8" stroke="#000000" stroke-width="1.25" fill="none" stroke-dasharray="2.6 1.45"/>
<text x="59.6" y="626.8" font-family="Liberation Sans, sans-serif" font-weight="bold" stroke="#000" stroke-width="0.28" font-size="9.90" textLength="75.2" lengthAdjust="spacingAndGlyphs" xml:space="preserve">Threshold (Rn=1)</text>
<path d="M356.3 536.0V792.6" stroke="#9a9a9a" stroke-width="1.3"/>
</svg>
</body></html>
